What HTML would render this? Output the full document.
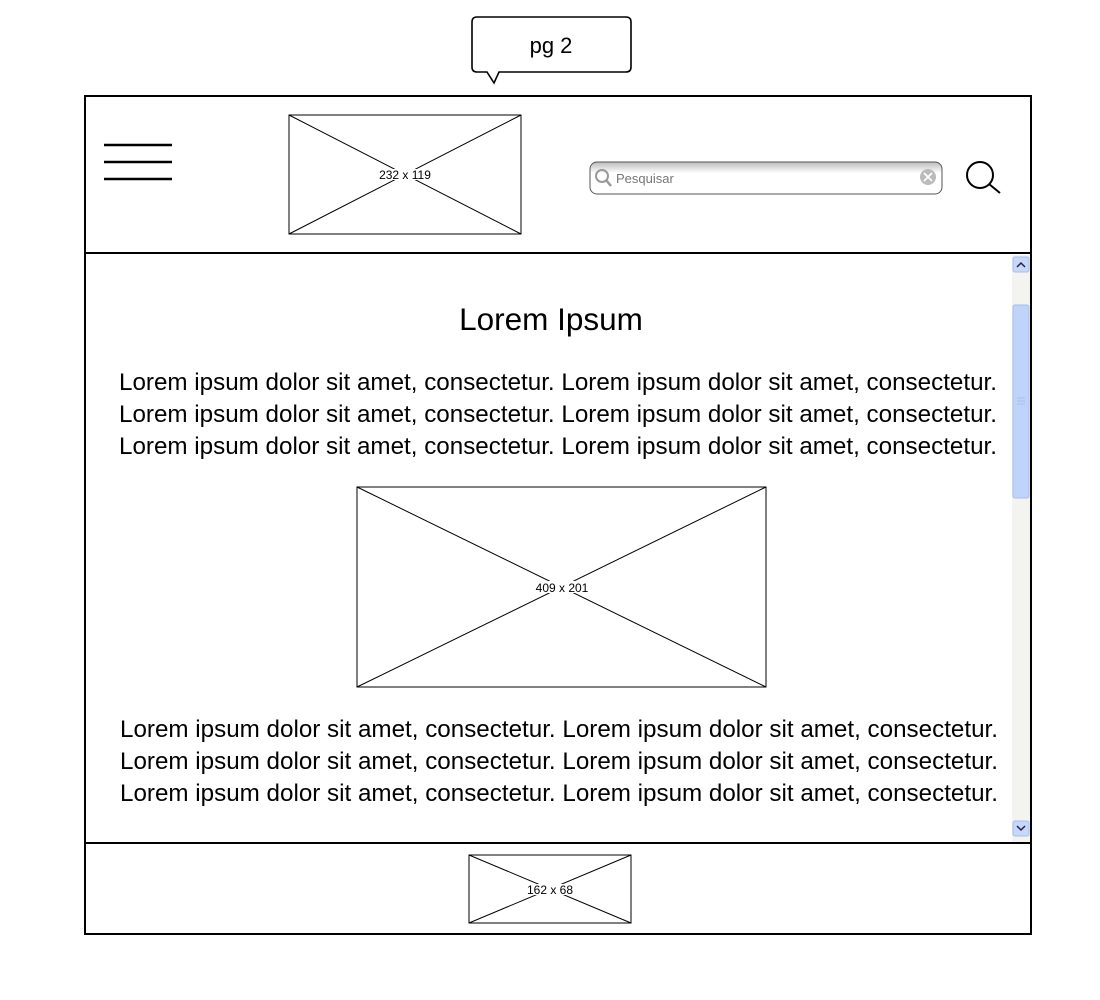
<!DOCTYPE html>
<html><head><meta charset="utf-8"><style>
body{margin:0;background:#fff;width:1100px;height:1000px;overflow:hidden}
svg{display:block}
text{font-family:"Liberation Sans",sans-serif}
</style></head><body>
<svg width="1100" height="1000" viewBox="0 0 1100 1000">
<defs>
<linearGradient id="sg" x1="0" y1="0" x2="0" y2="1"><stop offset="0" stop-color="#bbb"/><stop offset="0.35" stop-color="#fff"/><stop offset="1" stop-color="#fff"/></linearGradient>
</defs>
<g>
<path d="M477,17 H626 Q631,17 631,22 V67 Q631,72 626,72 H499 L494,83 L487,72 H477 Q472,72 472,67 V22 Q472,17 477,17 Z" fill="#fff" stroke="#000" stroke-width="1.6"/>
<text x="551" y="53" font-size="22" text-anchor="middle">pg 2</text>
</g>
<rect x="85" y="96" width="946" height="838" fill="#fff" stroke="#000" stroke-width="2"/>
<line x1="85" y1="253" x2="1031" y2="253" stroke="#000" stroke-width="2"/>
<line x1="85" y1="843" x2="1031" y2="843" stroke="#000" stroke-width="2"/>
<g stroke="#000" stroke-width="2.5">
<line x1="104" y1="145" x2="172" y2="145"/><line x1="104" y1="162" x2="172" y2="162"/><line x1="104" y1="179" x2="172" y2="179"/>
</g>
<g stroke="#000" stroke-width="1" fill="none">
<rect x="289" y="115" width="232" height="119"/><line x1="289" y1="115" x2="521" y2="234"/><line x1="521" y1="115" x2="289" y2="234"/>
<rect x="381" y="169" width="48" height="11" fill="#fff" stroke="none"/>
<text x="405" y="179" font-size="12" text-anchor="middle" fill="#000" stroke="none">232 x 119</text>
</g>
<g>
<rect x="590" y="162" width="352" height="32" rx="7" fill="url(#sg)" stroke="#555" stroke-width="1"/>
<circle cx="602" cy="176" r="6" fill="none" stroke="#999" stroke-width="2"/><line x1="606" y1="180" x2="611" y2="186" stroke="#999" stroke-width="2.5"/>
<text x="616" y="183" font-size="13" fill="#777">Pesquisar</text>
<circle cx="928" cy="177" r="8" fill="#bbb"/>
<path d="M924,173 L932,181 M932,173 L924,181" stroke="#fff" stroke-width="1.8"/>
</g>
<g stroke="#000" stroke-width="2" fill="none">
<circle cx="980" cy="175" r="13"/><line x1="989" y1="184" x2="1000" y2="193"/>
</g>
<g>
<rect x="1012" y="255" width="18" height="587" fill="#f3f3ef"/>
<rect x="1013" y="257" width="16" height="15" rx="2" fill="#c6d7fb" stroke="#a9bde8"/>
<path d="M1017,267 L1021,263 L1025,267" stroke="#224" stroke-width="1.5" fill="none"/>
<rect x="1013" y="305" width="16" height="193" rx="2" fill="#c0d3fb" stroke="#a9bde8"/>
<path d="M1017,398 H1025 M1017,401 H1025 M1017,404 H1025" stroke="#a9bde8"/>
<rect x="1013" y="821" width="16" height="15" rx="2" fill="#c6d7fb" stroke="#a9bde8"/>
<path d="M1017,826 L1021,830 L1025,826" stroke="#224" stroke-width="1.5" fill="none"/>
</g>
<text x="551" y="330" font-size="31.5" text-anchor="middle">Lorem Ipsum</text>
<g font-size="24">
<text x="119" y="390" textLength="878" lengthAdjust="spacingAndGlyphs">Lorem ipsum dolor sit amet, consectetur. Lorem ipsum dolor sit amet, consectetur.</text>
<text x="119" y="422" textLength="878" lengthAdjust="spacingAndGlyphs">Lorem ipsum dolor sit amet, consectetur. Lorem ipsum dolor sit amet, consectetur.</text>
<text x="119" y="454" textLength="878" lengthAdjust="spacingAndGlyphs">Lorem ipsum dolor sit amet, consectetur. Lorem ipsum dolor sit amet, consectetur.</text>
</g>
<g stroke="#000" stroke-width="1" fill="none">
<rect x="357" y="487" width="409" height="200"/><line x1="357" y1="487" x2="766" y2="687"/><line x1="766" y1="487" x2="357" y2="687"/>
<rect x="534" y="581" width="56" height="12" fill="#fff" stroke="none"/>
<text x="562" y="592" font-size="12" text-anchor="middle" fill="#000" stroke="none">409 x 201</text>
</g>
<g font-size="24">
<text x="120" y="737" textLength="878" lengthAdjust="spacingAndGlyphs">Lorem ipsum dolor sit amet, consectetur. Lorem ipsum dolor sit amet, consectetur.</text>
<text x="120" y="769" textLength="878" lengthAdjust="spacingAndGlyphs">Lorem ipsum dolor sit amet, consectetur. Lorem ipsum dolor sit amet, consectetur.</text>
<text x="120" y="801" textLength="878" lengthAdjust="spacingAndGlyphs">Lorem ipsum dolor sit amet, consectetur. Lorem ipsum dolor sit amet, consectetur.</text>
</g>
<g stroke="#000" stroke-width="1" fill="none">
<rect x="469" y="855" width="162" height="68"/><line x1="469" y1="855" x2="631" y2="923"/><line x1="631" y1="855" x2="469" y2="923"/>
<rect x="526" y="884" width="48" height="11" fill="#fff" stroke="none"/>
<text x="550" y="894" font-size="12" text-anchor="middle" fill="#000" stroke="none">162 x 68</text>
</g>
</svg>
</body></html>
